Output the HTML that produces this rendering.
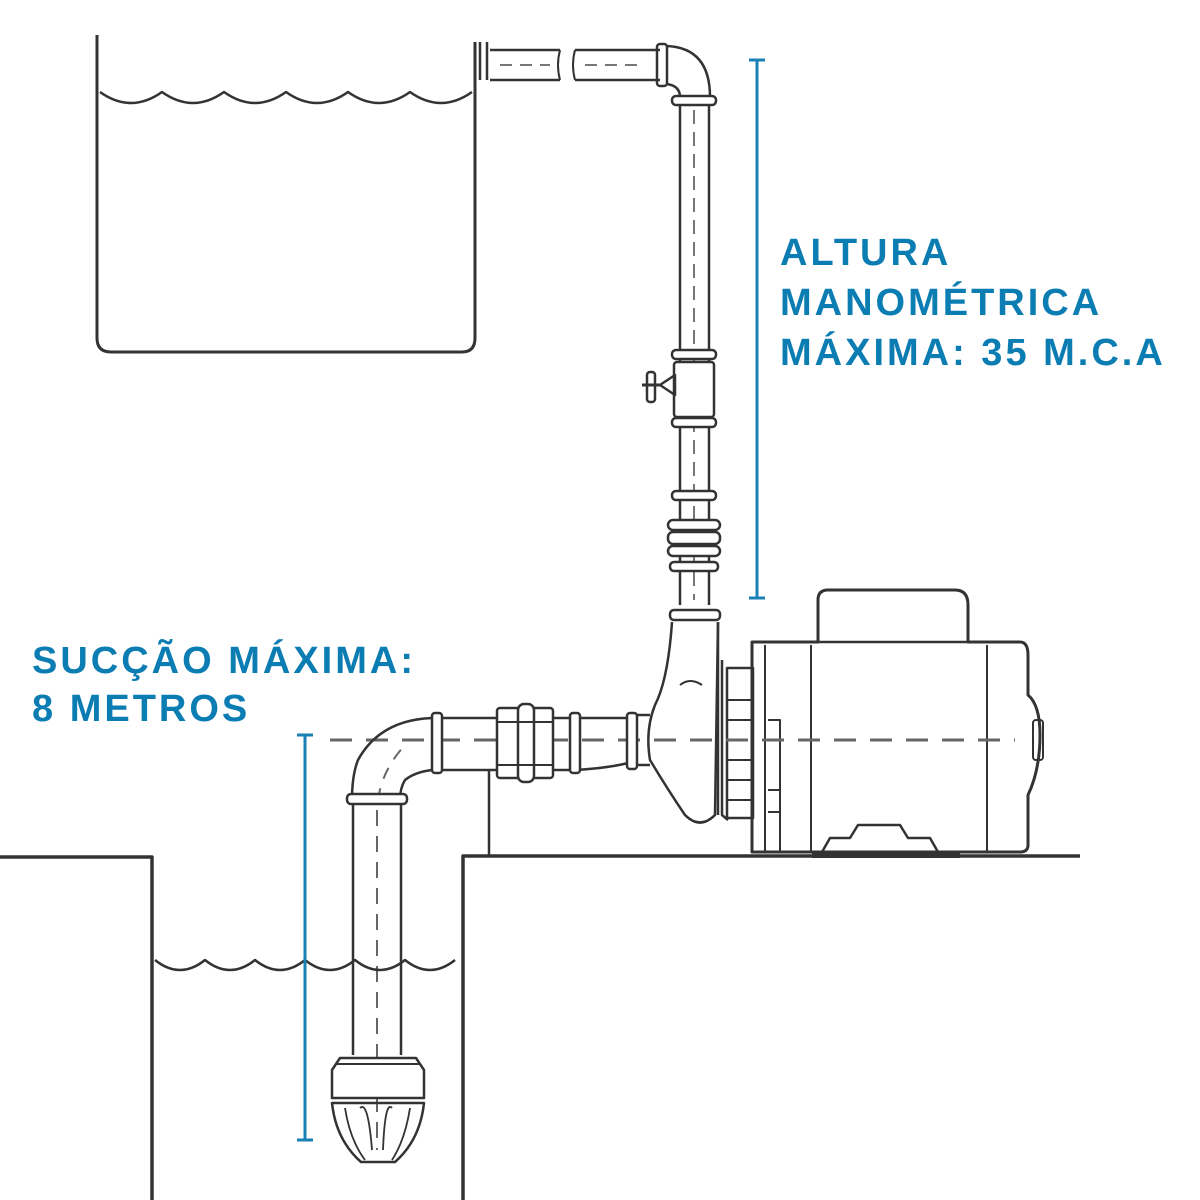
<!DOCTYPE html>
<html><head><meta charset="utf-8"><style>
html,body{margin:0;padding:0;background:#fff}
.t{position:absolute;font-family:"Liberation Sans",sans-serif;font-weight:bold;color:#0c7db3;font-size:38px;letter-spacing:3px;white-space:nowrap}
</style></head><body>
<div style="position:relative;width:1200px;height:1200px;overflow:hidden">
<svg width="1200" height="1200" viewBox="0 0 1200 1200" style="position:absolute;left:0;top:0" fill="none" stroke="#333" stroke-width="3" stroke-linejoin="round">
<path d="M97 35 V338 Q97 352 111 352 H462 Q475 352 475 338 V42"/>
<path d="M480 42 V80 M487 42 V80" stroke-width="2.5"/>
<path d="M100 92 q31 22 62 0 q31 22 62 0 q31 22 62 0 q31 22 62 0 q31 22 62 0 q31 22 62 0" stroke-width="2.5"/>
<path d="M490 50 H560 M490 80 H560 M575 50 H660 M575 80 H660" stroke-width="2.5"/>
<path d="M560 50 q-4 15 0 30 M575 50 q-4 15 0 30" stroke-width="2"/>
<path d="M500 65 H550 M585 65 H645" stroke="#777" stroke-dasharray="12 8" stroke-width="2"/>
<rect x="657" y="44" width="10" height="42" rx="3" stroke-width="2.5"/>
<path d="M667 46 Q710 48 710 97 M667 84 Q680 86 680 97" stroke-width="2.5"/>
<path d="M680 102 V605 M709 102 V605" stroke-width="2.5"/>
<path d="M694 110 V600" stroke="#777" stroke-dasharray="14 8" stroke-width="2"/>
<g fill="#fff" stroke-width="2.5">
<rect x="672" y="96" width="44" height="9" rx="4"/>
<rect x="672" y="350" width="44" height="9" rx="4"/>
<rect x="674" y="362" width="40" height="55" rx="3"/>
<rect x="672" y="418" width="44" height="9" rx="4"/>
<rect x="672" y="491" width="44" height="9" rx="4"/>
<rect x="668" y="520" width="52" height="10" rx="5"/>
<rect x="668" y="532" width="52" height="12" rx="5"/>
<rect x="668" y="546" width="52" height="10" rx="5"/>
<rect x="670" y="562" width="48" height="9" rx="4"/>
<rect x="670" y="610" width="50" height="10" rx="4"/>
</g>
<path d="M660 385 L675 375 V395 Z" stroke-width="2.5"/>
<rect x="647" y="372" width="8" height="30" rx="3" stroke-width="2.5"/>
<path d="M642 385 H662" stroke-width="3"/>
<path d="M672 622 Q668 680 655 705 Q645 730 650 760 Q668 790 685 815 Q700 830 715 815 L718 622" stroke-width="2.5"/>
<path d="M718 622 V815 M722 660 V815 L728 820" stroke-width="2.5"/>
<path d="M680 685 q10 -8 22 0" stroke-width="2"/>
<rect x="727" y="668" width="26" height="150" stroke-width="2.5"/>
<path d="M727 700 H753 M727 720 H753 M727 760 H753 M727 780 H753 M727 800 H753" stroke-width="2"/>
<path d="M752 642 H818 V600 Q818 590 828 590 H955 Q968 590 968 605 V642 H1020 Q1028 642 1028 655 V695 Q1040 705 1040 735 Q1040 770 1028 795 V845 Q1028 852 1020 852 H752 Z" stroke-width="3"/>
<path d="M818 642 H968" stroke-width="2.5"/>
<path d="M765 645 V852 M768 720 H780 V852 M768 790 H780 M768 812 H780" stroke-width="2"/>
<path d="M811 645 V852 M987 645 V852" stroke-width="2"/>
<rect x="1033" y="720" width="10" height="40" rx="3" stroke-width="2"/>
<path d="M822 852 L830 838 H850 L858 825 H900 L908 838 H930 L938 852" stroke-width="2.5"/>
<path d="M812 855 H960" stroke-width="6"/>
<path d="M330 740 H1015" stroke="#666" stroke-dasharray="22 14" stroke-width="3"/>
<path d="M437 718 H497 M437 770 H497 M553 718 H632 M553 770 H575 Q610 768 632 762" stroke-width="2.5"/>
<path d="M632 715 H650 M632 765 H650" stroke-width="2.5"/>
<g fill="#fff" stroke-width="2.5">
<rect x="432" y="713" width="10" height="60" rx="3"/>
<rect x="497" y="708" width="56" height="70" rx="3"/>
<rect x="518" y="704" width="16" height="78" rx="6"/>
<rect x="570" y="713" width="10" height="60" rx="3"/>
<rect x="627" y="713" width="10" height="56" rx="3"/>
</g>
<path d="M497 722 H553 M497 765 H553" stroke-width="2"/>
<path d="M432 718 Q380 720 358 760 Q352 775 352 800 M432 770 Q415 772 405 780 Q400 788 400 800" stroke-width="2.5"/>
<path d="M378 800 Q382 770 405 745" stroke="#666" stroke-dasharray="12 10" stroke-width="2"/>
<path d="M489 770 V855" stroke-width="2.5"/>
<rect x="347" y="794" width="60" height="10" rx="4" fill="#fff" stroke-width="2.5"/>
<path d="M353 804 V1055 M401 804 V1055" stroke-width="2.5"/>
<path d="M377 810 V1150" stroke="#666" stroke-dasharray="16 10" stroke-width="2"/>
<path d="M340 1058 H416 L424 1070 V1098 H332 V1070 Z" fill="#fff" stroke-width="2.5"/>
<path d="M335 1064 H421" stroke-width="2"/>
<path d="M332 1103 H424 Q420 1140 395 1162 H361 Q336 1140 332 1103 Z" stroke-width="2.5"/>
<path d="M345 1108 Q350 1140 365 1160 M360 1108 Q368 1100 372 1150 M392 1108 Q385 1100 383 1150 M410 1108 Q405 1140 392 1160" stroke-width="1.8"/>
<path d="M0 857 H152 V1200" stroke-width="3.5"/>
<path d="M463 1200 V856 H1080" stroke-width="3.5"/>
<path d="M155 960 q25 20 50 0 q25 20 50 0 q25 20 50 0 q25 20 50 0 q25 20 50 0 q25 20 50 0" stroke-width="2.5"/>
<g stroke="#1a80b5" stroke-width="3">
<path d="M757 60 V598 M749 60 H765 M749 598 H765"/>
<path d="M305 735 V1140 M297 735 H313 M297 1140 H313"/>
</g>
</svg>
<div class="t" style="left:780px;top:228px;line-height:50px">ALTURA<br>MANOMÉTRICA<br>MÁXIMA: 35 M.C.A</div>
<div class="t" style="left:32px;top:637px;line-height:48px">SUCÇÃO MÁXIMA:<br>8 METROS</div>
</div>
</body></html>
